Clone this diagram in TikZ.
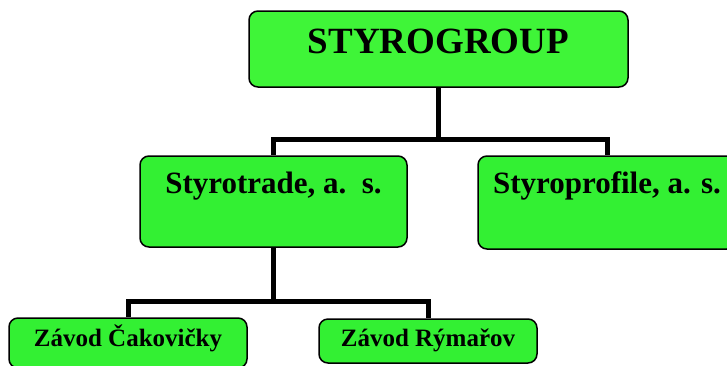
\documentclass[tikz,border=0pt]{standalone}
\usepackage{fontspec}
\setmainfont{Liberation Serif}
\definecolor{topgreen}{RGB}{63,245,56}
\definecolor{boxgreen}{RGB}{51,240,51}
\begin{document}
\begin{tikzpicture}[x=1pt,y=-1pt,
  orgbox/.style={draw=black,line width=1.5pt,fill=boxgreen,rounded corners=9pt,
    inner sep=0pt,align=center,font=\bfseries},
  conn/.style={line width=5pt,draw=black}]
\clip (0,0) rectangle (727,365);
\node[orgbox,fill=topgreen,minimum width=379pt,text height=42pt,text depth=34pt,
  font=\bfseries\fontsize{37}{40}\selectfont] (top) at (438.5,49) {STYROGROUP};
\node[orgbox,minimum width=267pt,text height=37pt,text depth=54pt,
  font=\bfseries\fontsize{31}{34}\selectfont] (trade) at (273.5,201.5) {Styrotrade, a.\ \ s.};
\node[orgbox,minimum width=258pt,text height=37pt,text depth=56pt,
  font=\bfseries\fontsize{31}{34}\selectfont] (profile) at (607,202.5) {Styroprofile, a. s.};
\node[orgbox,minimum width=238pt,text height=28pt,text depth=22pt,
  font=\bfseries\fontsize{25}{28}\selectfont] (cak) at (128,343) {Závod Čakovičky};
\node[orgbox,minimum width=218pt,text height=27pt,text depth=17pt,
  font=\bfseries\fontsize{25}{28}\selectfont] (rym) at (428,341) {Závod Rýmařov};
\coordinate (j1) at (438.5,139);
\coordinate (j2) at (273.5,301);
\draw[conn] (top.south) -- (j1);
\draw[conn] (trade.north) |- (j1) -| (profile.north);
\draw[conn] (trade.south) -- (j2);
\draw[conn] (cak.north) |- (j2) -| (rym.north);
\end{tikzpicture}
\end{document}
